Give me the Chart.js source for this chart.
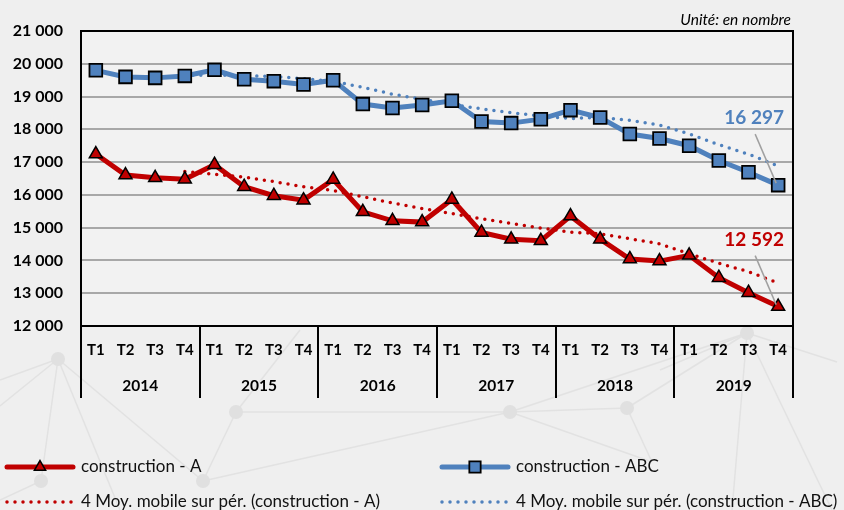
<!DOCTYPE html>
<html><head><meta charset="utf-8">
<script src="https://cdn.jsdelivr.net/npm/chart.js@4/dist/chart.umd.min.js"></script>
<style>html,body{margin:0;padding:0;background:#efefef;}canvas{display:block;}</style>
</head><body>
<canvas id="c" width="844" height="510"></canvas>
<script>
// ---- data ----
const years = ['2014', '2015', '2016', '2017', '2018', '2019'];
const quarters = ['T1', 'T2', 'T3', 'T4'];
const constructionA = [17245, 16605, 16520, 16480, 16920, 16250, 15975, 15840, 16470, 15485, 15210, 15170,
                       15860, 14855, 14645, 14600, 15355, 14650, 14045, 13980, 14155, 13475, 13015, 12592];
const constructionABC = [19800, 19600, 19570, 19630, 19815, 19530, 19470, 19370, 19500, 18770, 18650, 18740,
                         18870, 18240, 18190, 18310, 18585, 18360, 17855, 17720, 17500, 17050, 16690, 16297];
const movingAvgA = [null, null, null, 16713, 16631, 16543, 16406, 16246, 16134, 15943, 15751, 15584,
                    15431, 15274, 15133, 14990, 14864, 14813, 14663, 14508, 14208, 13914, 13656, 13309];
const movingAvgABC = [null, null, null, 19650, 19654, 19636, 19611, 19546, 19468, 19278, 19073, 18915,
                      18758, 18625, 18510, 18403, 18331, 18361, 18278, 18130, 17859, 17531, 17240, 16884];
const seriesNames = ['construction - A', 'construction - ABC',
  '4 Moy. mobile sur pér. (construction - A)', '4 Moy. mobile sur pér. (construction - ABC)'];
const yMin = 12000, yMax = 21000, yStep = 1000;
const unitText = 'Unité: en nombre';

const labels = years.flatMap(() => quarters);
const RED = '#c00000', BLUE = '#4f81bd';
const FONT = 'Lato, "Open Sans", sans-serif';
const fmt = n => String(n).replace(/\B(?=(\d{3})+(?!\d))/g, ' ');

// ---- plugins ----
const background = {
  id: 'background',
  beforeDraw(chart) {
    const ctx = chart.ctx, a = chart.chartArea;
    ctx.save();
    ctx.fillStyle = '#efefef';
    ctx.fillRect(0, 0, chart.width, chart.height);
    // faint decorative network
    const edges = [[58,359,0,380],[58,359,0,406],[58,359,41,481],[58,359,203,481],[58,359,120,510],
      [236,412,510,412],[203,481,236,412],[203,481,510,412],[236,412,300,330],
      [510,412,627,408],[510,412,747,333],[510,412,652,462],[627,408,652,462],[627,408,747,333],
      [747,333,837,362],[747,333,732,510],[747,333,832,510],[747,333,660,370],[41,481,0,500]];
    ctx.strokeStyle = '#e2e2e2'; ctx.lineWidth = 1.5;
    edges.forEach(e => { ctx.beginPath(); ctx.moveTo(e[0], e[1]); ctx.lineTo(e[2], e[3]); ctx.stroke(); });
    ctx.fillStyle = '#e0e0e0';
    [[58,359],[236,412],[510,412],[627,408],[747,333],[41,481],[203,481]].forEach(p => {
      ctx.beginPath(); ctx.arc(p[0], p[1], 7, 0, Math.PI * 2); ctx.fill();
    });
    ctx.fillStyle = '#f2f2f2';
    ctx.fillRect(a.left, a.top, a.right - a.left, a.bottom - a.top);
    ctx.restore();
  }
};

const frame = {
  id: 'frame',
  afterDraw(chart) {
    const ctx = chart.ctx, a = chart.chartArea, x = chart.scales.x;
    ctx.save();
    ctx.strokeStyle = '#000'; ctx.lineWidth = 2;
    ctx.beginPath();
    ctx.moveTo(a.left, a.bottom); ctx.lineTo(a.left, a.top); ctx.lineTo(a.right, a.top); ctx.lineTo(a.right, a.bottom);
    ctx.stroke();
    // year separators + year labels
    const cw = (x.right - x.left) / labels.length;
    for (let k = 0; k <= years.length; k++) {
      const px = Math.round(x.left + k * quarters.length * cw);
      ctx.beginPath(); ctx.moveTo(px, a.bottom); ctx.lineTo(px, a.bottom + 72); ctx.stroke();
    }
    ctx.fillStyle = '#000';
    ctx.font = 'bold 15.5px ' + FONT;
    ctx.textAlign = 'center'; ctx.textBaseline = 'middle';
    years.forEach((y, k) => {
      const c = (x.getPixelForValue(k * 4) + x.getPixelForValue(k * 4 + 3)) / 2;
      ctx.fillText(y, c, a.bottom + 60);
    });
    // unit
    ctx.font = 'italic 15.5px ' + FONT;
    ctx.textAlign = 'right';
    ctx.fillText(unitText, a.right - 2, 20);
    // last-value labels
    [0, 1].forEach(i => {
      const meta = chart.getDatasetMeta(i);
      const pt = meta.data[meta.data.length - 1];
      const ds = chart.data.datasets[i];
      ctx.strokeStyle = '#a0a0a0'; ctx.lineWidth = 1.5;
      ctx.beginPath(); ctx.moveTo(pt.x - 23, pt.y - 51); ctx.lineTo(pt.x - 2, pt.y - 2); ctx.stroke();
      ctx.fillStyle = ds.borderColor;
      ctx.font = 'bold 19px ' + FONT;
      ctx.textAlign = 'center';
      ctx.fillText(fmt(ds.data[ds.data.length - 1]), pt.x - 24, pt.y - 67);
    });
    // legend
    const pos = [[5, 467], [440, 467], [5, 502], [440, 502]];
    chart.data.datasets.forEach((ds, i) => {
      const [lx, ly] = pos[i];
      ctx.save();
      ctx.strokeStyle = ds.borderColor;
      ctx.lineWidth = ds.borderWidth;
      ctx.lineCap = 'round';
      if (ds.borderDash) ctx.setLineDash(ds.borderDash);
      ctx.beginPath(); ctx.moveTo(lx + 2, ly); ctx.lineTo(lx + 68, ly); ctx.stroke();
      ctx.restore();
      if (ds.pointRadius > 0) {
        ctx.fillStyle = ds.pointBackgroundColor; ctx.strokeStyle = ds.pointBorderColor;
        ctx.lineWidth = ds.pointBorderWidth;
        Chart.helpers.drawPoint(ctx, {pointStyle: ds.pointStyle, radius: ds.pointRadius - 1,
          borderWidth: ds.pointBorderWidth, rotation: 0}, lx + 35, ly);
      }
      ctx.fillStyle = '#111';
      ctx.font = '17px ' + FONT;
      ctx.textAlign = 'left'; ctx.textBaseline = 'middle';
      ctx.fillText(ds.label, lx + 76, ly);
    });
    ctx.restore();
  }
};

new Chart(document.getElementById('c'), {
  type: 'line',
  data: {
    labels,
    datasets: [
      { label: seriesNames[0], data: constructionA, borderColor: RED, borderWidth: 5, tension: 0,
        pointStyle: 'triangle', pointRadius: 7.5, pointBackgroundColor: RED, pointBorderColor: '#000', pointBorderWidth: 1.5 },
      { label: seriesNames[1], data: constructionABC, borderColor: BLUE, borderWidth: 5, tension: 0,
        pointStyle: 'rect', pointRadius: 9, pointBackgroundColor: BLUE, pointBorderColor: '#000', pointBorderWidth: 1.8 },
      { label: seriesNames[2], data: movingAvgA, borderColor: RED, borderWidth: 3.5, borderDash: [0, 8],
        borderCapStyle: 'round', pointRadius: 0, tension: 0 },
      { label: seriesNames[3], data: movingAvgABC, borderColor: BLUE, borderWidth: 3.5, borderDash: [0, 8],
        borderCapStyle: 'round', pointRadius: 0, tension: 0 }
    ]
  },
  options: {
    responsive: false, animation: false, devicePixelRatio: 1,
    layout: { padding: { left: 0, right: 51, top: 31, bottom: 112 } },
    plugins: { legend: { display: false }, tooltip: { enabled: false } },
    scales: {
      x: {
        offset: true,
        grid: { display: false, drawTicks: false },
        border: { display: true, color: '#000', width: 2 },
        ticks: { color: '#000', font: { family: FONT, weight: 'bold', size: 15 }, padding: 15,
                 autoSkip: false, maxRotation: 0 },
        afterFit(s) { s.height = 72; }
      },
      y: {
        min: yMin, max: yMax,
        grid: { color: '#a8a8a8', lineWidth: 2, drawTicks: false },
        border: { display: true, color: '#000', width: 2 },
        ticks: { stepSize: yStep, color: '#000', padding: 18, font: { family: FONT, weight: 'bold', size: 16 },
                 callback: v => fmt(v) },
        afterFit(s) { s.width = 81; }
      }
    }
  },
  plugins: [background, frame]
});
</script>
</body></html>
